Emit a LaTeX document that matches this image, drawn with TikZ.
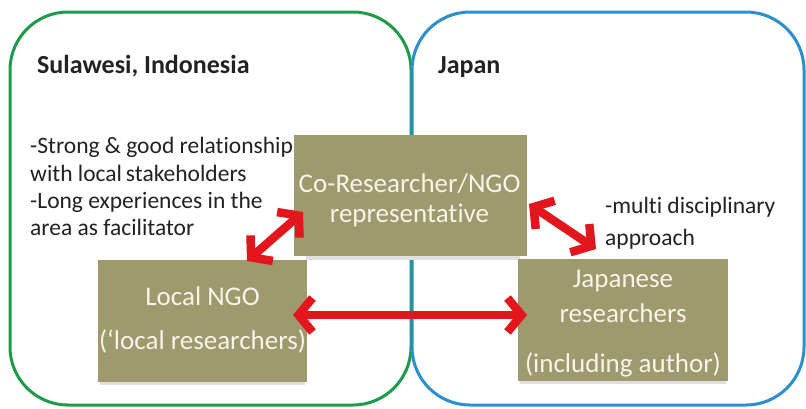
\documentclass[tikz,border=0pt]{standalone}
\usepackage{fontspec}
\setmainfont[Ligatures=NoCommon]{Carlito}
\usetikzlibrary{arrows.meta}

\definecolor{regiongreen}{HTML}{1E9A4A}
\definecolor{regionblue}{HTML}{2A8FCF}
\definecolor{boxolive}{HTML}{9E9A6E}
\definecolor{boxtext}{HTML}{F7F5EA}
\definecolor{linkred}{HTML}{E2161C}
\definecolor{inktext}{HTML}{222222}

\tikzset{
  region/.style={line width=3pt, rounded corners=58pt},
  actor/.style={fill=boxolive, draw=none, inner sep=0pt},
  actorshadow/.style={fill=black!12, draw=none},
  actortext/.style={text=boxtext, anchor=base, inner sep=0pt,
    font=\fontsize{27}{32}\selectfont},
  heading/.style={text=inktext, anchor=base west, inner sep=0pt,
    font=\fontsize{26}{30}\selectfont\bfseries},
  note/.style={text=inktext, anchor=base west, inner sep=0pt,
    font=\fontsize{23.5}{28}\selectfont},
  link/.style={draw=linkred, line width=8.5pt,
    {Straight Barb[length=14pt,width=34pt]}-{Straight Barb[length=14pt,width=34pt]}},
}

\begin{document}
\begin{tikzpicture}[x=1pt, y=-1pt]
  \useasboundingbox (0,0) rectangle (806,408);
  \fill[white] (0,0) rectangle (806,408);

  % two regions sharing a border
  \draw[region, draw=regiongreen] (10,12) rectangle (411,405);
  \draw[region, draw=regionblue] (412,12) rectangle (804,405);
  \draw[regionblue!60!regiongreen, line width=3pt] (411.5,68) -- (411.5,350);

  % region headings
  \node[heading] (sulawesi) at (37,73) {Sulawesi, Indonesia};
  \node[heading] (japan) at (438,73) {Japan};

  % soft shadows beneath the actor boxes
  \fill[actorshadow] (306,256) rectangle (520,260);
  \fill[actorshadow] (100,382) rectangle (305,385);
  \fill[actorshadow] (520,381) rectangle (726,384);

  % actor boxes
  \node[actor, minimum width=233pt, minimum height=121pt] (co) at (410.5,195.5) {};
  \node[actor, minimum width=209pt, minimum height=122pt] (ngo) at (202.5,321) {};
  \node[actor, minimum width=210pt, minimum height=122pt] (jp) at (623,320) {};

  \node[actortext] (coA) at (409.5,192) {Co-Researcher/NGO};
  \node[actortext] (coB) at (409.5,222) {representative};
  \node[actortext] (ngoA) at (202.5,305) {Local NGO};
  \node[actortext] (ngoB) at (202.5,349) {(‘local researchers)};
  \node[actortext] (jpA) at (623,287) {Japanese};
  \node[actortext] (jpB) at (623,322) {researchers};
  \node[actortext] (jpC) at (623,372) {(including author)};

  % side notes
  \node[note] (n1) at (30,153) {-Strong \& good relationship};
  \node[note] (n2) at (30,181) {with local\,stakeholders};
  \node[note] (n3) at (30,208) {-Long experiences in the};
  \node[note] (n4) at (30,235) {area as facilitator};
  \node[note] (n5) at (605,213) {-multi disciplinary};
  \node[note] (n6) at (605,245) {approach};

  % links between actors
  \coordinate (ngoTop) at (247,261);
  \coordinate (coLeft) at (303,212);
  \coordinate (coRight) at (529,204);
  \coordinate (jpTop) at (596,249);
  \coordinate (ngoRight) at (293,315);
  \coordinate (jpLeft) at (527,315);
  \draw[link] (ngoTop) -- (coLeft);
  \draw[link] (coRight) -- (jpTop);
  \draw[link] (ngoRight) -- (jpLeft);
\end{tikzpicture}
\end{document}
